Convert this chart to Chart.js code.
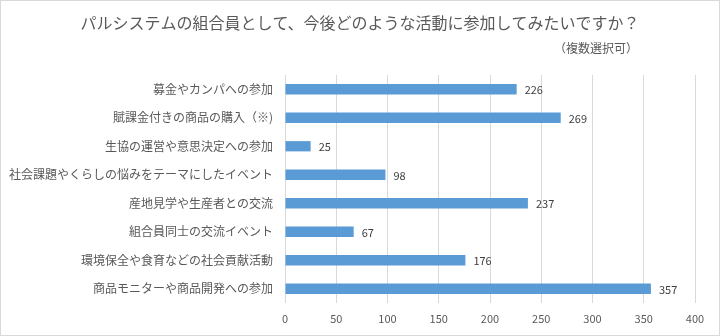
<!DOCTYPE html>
<html>
<head>
<meta charset="utf-8">
<script src="https://cdn.jsdelivr.net/npm/chart.js@4/dist/chart.umd.min.js"></script>
<style>
  html, body { margin: 0; padding: 0; background: #fff; }
  canvas { display: block; }
</style>
</head>
<body>
<canvas id="barChart" width="720" height="336"></canvas>
<script>
const titleText = 'パルシステムの組合員として、今後どのような活動に参加してみたいですか？';
const subtitleText = '（複数選択可）';
const categories = [
  '募金やカンパへの参加',
  '賦課金付きの商品の購入（※)',
  '生協の運営や意思決定への参加',
  '社会課題やくらしの悩みをテーマにしたイベント',
  '産地見学や生産者との交流',
  '組合員同士の交流イベント',
  '環境保全や食育などの社会貢献活動',
  '商品モニターや商品開発への参加'
];
const counts = [226, 269, 25, 98, 237, 67, 176, 357];
const xTicks = [0, 50, 100, 150, 200, 250, 300, 350, 400];

const FONT = '"Noto Sans CJK JP", "Noto Sans", sans-serif';

// frame, title, subtitle and value labels
const decorPlugin = {
  id: 'decor',
  beforeDraw(chart) {
    const ctx = chart.ctx;
    ctx.save();
    ctx.fillStyle = '#ffffff';
    ctx.fillRect(0, 0, chart.width, chart.height);
    ctx.strokeStyle = '#d9d9d9';
    ctx.lineWidth = 1;
    ctx.strokeRect(0.5, 0.5, chart.width - 1, chart.height - 1);
    ctx.restore();
  },
  afterDraw(chart) {
    const ctx = chart.ctx;
    ctx.save();
    ctx.fillStyle = '#595959';
    ctx.textBaseline = 'middle';
    ctx.font = '16px ' + FONT;
    ctx.textAlign = 'center';
    ctx.fillText(titleText, 360, 23);
    ctx.font = '12px ' + FONT;
    ctx.textAlign = 'right';
    ctx.fillText(subtitleText, 638, 48);
    ctx.restore();
  },
  afterDatasetsDraw(chart) {
    const ctx = chart.ctx;
    const meta = chart.getDatasetMeta(0);
    ctx.save();
    ctx.fillStyle = '#404040';
    ctx.font = '11px ' + FONT;
    ctx.textAlign = 'left';
    ctx.textBaseline = 'middle';
    meta.data.forEach((bar, i) => {
      ctx.fillText(String(counts[i]), bar.x + 8, bar.y + 1);
    });
    ctx.restore();
  }
};

const ctx = document.getElementById('barChart').getContext('2d');
new Chart(ctx, {
  type: 'bar',
  data: {
    labels: categories,
    datasets: [{
      data: counts,
      backgroundColor: '#5b9bd5',
      borderWidth: 0,
      barPercentage: 0.36,
      categoryPercentage: 1
    }]
  },
  options: {
    indexAxis: 'y',
    responsive: false,
    animation: false,
    devicePixelRatio: 1,
    layout: { padding: { left: 0, right: 25, top: 75, bottom: 0 } },
    plugins: {
      legend: { display: false },
      title: { display: false },
      tooltip: { enabled: false }
    },
    scales: {
      x: {
        min: 0,
        max: 400,
        afterBuildTicks: scale => { scale.ticks = xTicks.map(v => ({ value: v })); },
        afterFit: scale => { scale.height = 33; },
        grid: { color: '#d9d9d9', drawTicks: false },
        border: { display: false },
        ticks: { color: '#595959', font: { family: FONT, size: 11 }, padding: 9 }
      },
      y: {
        afterFit: scale => { scale.width = 285; },
        grid: { display: false, drawTicks: false },
        border: { display: false },
        ticks: { color: '#595959', font: { family: FONT, size: 12 }, padding: 12, autoSkip: false }
      }
    }
  },
  plugins: [decorPlugin]
});
</script>
</body>
</html>
